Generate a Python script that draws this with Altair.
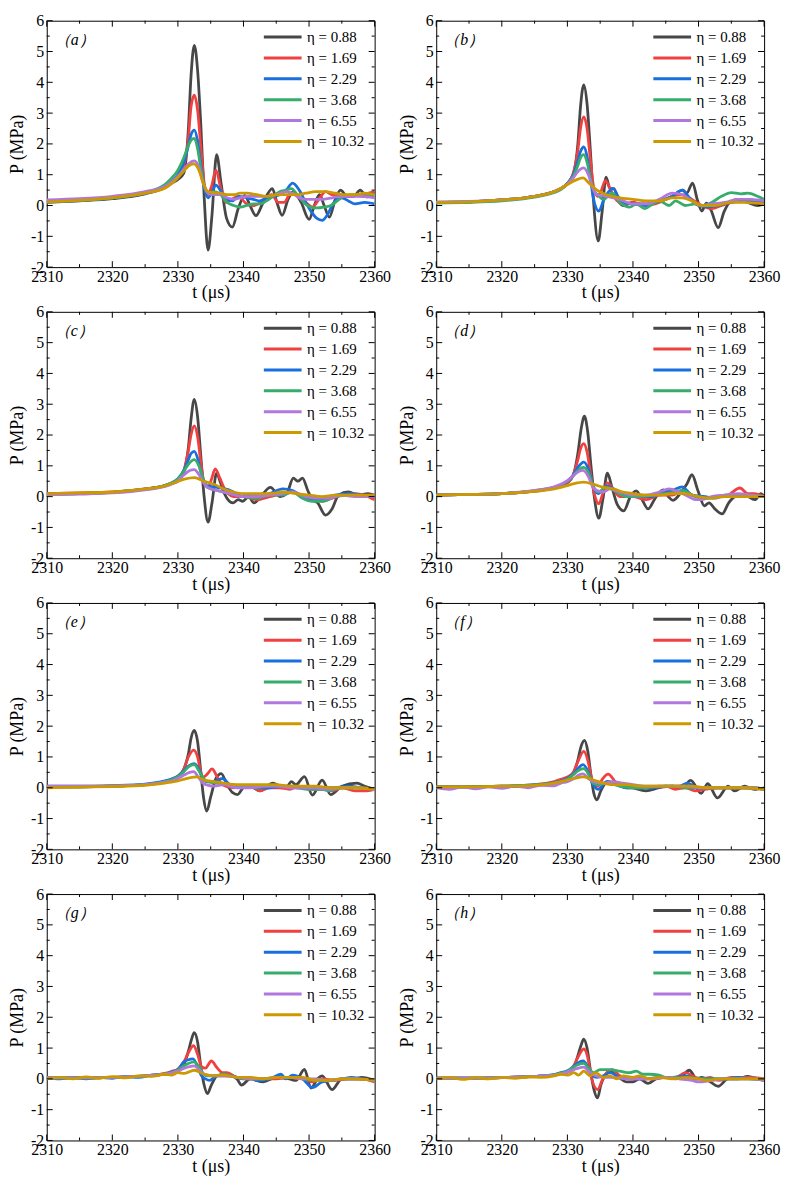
import altair as alt
import pandas as pd

ETA = [0.88, 1.69, 2.29, 3.68, 6.55, 10.32]
COLORS = ["#474747", "#F14040", "#1A6FDF", "#37AD6B", "#B177DE", "#CC9900"]
TAGS = ["a", "b", "c", "d", "e", "f", "g", "h"]
X_MAJOR = [2310, 2320, 2330, 2340, 2350, 2360]
X_MINOR = [2315, 2325, 2335, 2345, 2355]
Y_MAJOR = [-2, -1, 0, 1, 2, 3, 4, 5, 6]
Y_MINOR = [-1.5, -0.5, 0.5, 1.5, 2.5, 3.5, 4.5, 5.5]

# ---- panel (a) ----
a1 = [(2310,0.10),(2315,0.15),(2320,0.22),(2325,0.38),(2327,0.50),(2328,0.60),(2329,0.72),(2330,0.85),(2330.9,1.05),(2331.6,2.5),(2332.0,4.2),(2332.5,5.2),(2333.0,4.4),(2333.5,2.6),(2334.0,0.3),(2334.6,-1.45),(2335.2,-0.3),(2335.9,1.65),(2336.6,0.7),(2337.4,-0.4),(2338.3,-0.7),(2339.2,-0.1),(2340.2,0.33),(2341.0,0.0),(2341.9,-0.33),(2343.0,0.1),(2344.4,0.55),(2345.1,0.1),(2345.9,-0.32),(2346.8,0.2),(2347.6,0.45),(2348.8,0.1),(2350.0,-0.45),(2350.8,0.0),(2351.6,0.35),(2352.3,0.0),(2353.1,-0.38),(2354.0,0.2),(2354.8,0.5),(2355.8,0.3),(2356.8,0.3),(2357.8,0.5),(2358.8,0.28),(2360,0.45)]
a2 = [(2310,0.12),(2315,0.17),(2320,0.25),(2325,0.40),(2328,0.60),(2329,0.75),(2330,0.95),(2330.9,1.3),(2331.6,2.2),(2332.0,3.2),(2332.5,3.58),(2333.0,3.1),(2333.5,1.9),(2334.0,0.75),(2334.5,0.35),(2335.1,0.6),(2335.8,1.15),(2336.5,0.6),(2337.3,0.1),(2338.2,0.2),(2339.2,0.3),(2340.5,0.05),(2341.5,0.0),(2343,0.15),(2344.3,0.35),(2345.3,0.1),(2346.2,0.1),(2347.2,0.4),(2348.5,0.25),(2349.5,0.1),(2350.5,-0.05),(2351.5,0.2),(2352.5,0.45),(2353.5,0.35),(2355,0.3),(2356.5,0.3),(2358,0.35),(2360,0.45)]
a3 = [(2310,0.12),(2315,0.16),(2320,0.24),(2325,0.40),(2328,0.62),(2329,0.78),(2330,1.0),(2330.9,1.4),(2331.6,1.95),(2332.0,2.3),(2332.5,2.45),(2333.0,2.1),(2333.5,1.3),(2334.0,0.6),(2334.6,0.25),(2335.2,0.45),(2335.8,0.66),(2336.6,0.45),(2337.5,0.2),(2338.3,0.15),(2339.3,0.3),(2340.5,0.25),(2341.5,0.2),(2342.5,0.15),(2343.5,0.25),(2344.5,0.3),(2345.5,0.35),(2346.5,0.5),(2347.5,0.73),(2348.5,0.5),(2349.5,0.1),(2350.5,-0.25),(2351.2,-0.42),(2352.0,-0.48),(2352.8,-0.3),(2353.8,0.1),(2355,0.25),(2356,0.15),(2357,0.05),(2358.5,0.1),(2360,0.05)]
a4 = [(2310,0.13),(2315,0.17),(2320,0.25),(2325,0.42),(2328,0.68),(2329,0.88),(2330,1.15),(2330.9,1.55),(2331.6,1.95),(2332.0,2.12),(2332.5,2.18),(2333.0,1.85),(2333.5,1.2),(2334.0,0.65),(2334.6,0.4),(2335.5,0.45),(2336.5,0.35),(2337.5,0.1),(2338.5,0.0),(2339.5,-0.05),(2340.5,0.0),(2341.5,0.05),(2342.5,0.05),(2343.5,0.15),(2344.5,0.3),(2345.5,0.45),(2346.5,0.5),(2347.3,0.55),(2348.2,0.35),(2349.2,0.1),(2350.2,-0.05),(2351.2,-0.08),(2352.3,-0.05),(2353.3,0.0),(2354.3,0.15),(2355.3,0.3),(2356.5,0.35),(2358,0.3),(2360,0.3)]
a5 = [(2310,0.18),(2315,0.22),(2320,0.30),(2325,0.45),(2328,0.62),(2329,0.76),(2330,0.95),(2330.9,1.18),(2331.6,1.35),(2332.5,1.45),(2333.2,1.25),(2333.9,0.7),(2334.6,0.4),(2335.5,0.35),(2336.5,0.35),(2337.5,0.25),(2338.5,0.2),(2339.5,0.25),(2340.5,0.3),(2342,0.3),(2343.5,0.3),(2345,0.35),(2346.5,0.45),(2347.5,0.4),(2348.5,0.25),(2349.5,0.2),(2350.5,0.2),(2352,0.2),(2353.5,0.25),(2355,0.3),(2356.5,0.3),(2358,0.3),(2360,0.25)]
a6 = [(2310,0.12),(2315,0.17),(2320,0.25),(2325,0.40),(2328,0.56),(2329,0.70),(2330,0.90),(2330.9,1.12),(2331.6,1.28),(2332.4,1.35),(2333.2,1.15),(2333.9,0.7),(2334.6,0.45),(2335.5,0.42),(2336.5,0.4),(2337.5,0.35),(2338.5,0.35),(2339.5,0.4),(2340.5,0.4),(2342,0.35),(2343.5,0.3),(2345,0.35),(2346.5,0.35),(2348,0.35),(2349.5,0.4),(2351,0.45),(2352.5,0.45),(2354,0.4),(2355.5,0.35),(2357,0.35),(2358.5,0.4),(2360,0.35)]

# ---- panel (b) ----
b1 = [(2310,0.10),(2315,0.12),(2320,0.18),(2325,0.30),(2328,0.45),(2329,0.55),(2330,0.70),(2330.9,1.0),(2331.6,2.0),(2332.0,3.2),(2332.5,3.92),(2333.0,3.3),(2333.5,1.8),(2334.0,0.1),(2334.7,-1.15),(2335.3,-0.2),(2335.9,0.92),(2336.5,0.55),(2337.1,0.55),(2337.8,0.15),(2338.5,0.0),(2340,0.1),(2341,0.05),(2342,0.05),(2343,0.1),(2344,0.15),(2345,0.2),(2346,0.3),(2347.6,0.5),(2348.2,0.4),(2349.1,0.73),(2349.8,0.2),(2350.5,-0.18),(2351.2,0.08),(2351.9,-0.15),(2353.0,-0.72),(2353.9,-0.2),(2354.8,0.12),(2356,0.2),(2357.5,0.1),(2359,0.0),(2360,0.05)]
b2 = [(2310,0.10),(2315,0.12),(2320,0.18),(2325,0.30),(2328,0.45),(2329,0.55),(2330,0.72),(2330.9,1.05),(2331.6,1.8),(2332.0,2.5),(2332.5,2.88),(2333.0,2.5),(2333.5,1.5),(2334.0,0.6),(2334.6,0.3),(2335.1,0.45),(2335.8,0.81),(2336.5,0.55),(2337.2,0.25),(2338.5,0.05),(2340,0.1),(2342,0.0),(2344,0.1),(2346,0.3),(2347.5,0.35),(2349,0.2),(2350.5,0.0),(2352,-0.1),(2353.5,0.0),(2355,0.1),(2357,0.15),(2360,0.1)]
b3 = [(2310,0.10),(2315,0.12),(2320,0.18),(2325,0.30),(2328,0.45),(2329,0.55),(2330,0.72),(2330.9,1.0),(2331.6,1.45),(2332.0,1.75),(2332.5,1.9),(2333.0,1.6),(2333.5,0.9),(2334.0,0.2),(2334.8,-0.18),(2335.5,0.15),(2336.3,0.45),(2337.0,0.55),(2337.7,0.3),(2338.5,0.1),(2340,0.05),(2342,0.0),(2344,0.15),(2346,0.3),(2347.5,0.5),(2348.8,0.2),(2350,0.0),(2351.5,-0.05),(2353,0.0),(2355,0.1),(2357,0.15),(2360,0.1)]
b4 = [(2310,0.08),(2315,0.10),(2320,0.15),(2325,0.27),(2328,0.42),(2329,0.52),(2330,0.70),(2330.9,0.95),(2331.6,1.3),(2332.0,1.55),(2332.5,1.65),(2333.0,1.4),(2333.5,0.9),(2334.0,0.5),(2334.6,0.35),(2335.5,0.2),(2336.8,0.4),(2338,0.1),(2339.5,-0.05),(2340.5,0.05),(2341.8,-0.1),(2343,0.05),(2344,0.15),(2345.5,0.0),(2346.5,0.15),(2348,0.0),(2349.5,0.05),(2350.5,0.0),(2352,0.1),(2353.5,0.3),(2355,0.42),(2356.5,0.38),(2357.5,0.4),(2359,0.3),(2360,0.2)]
b5 = [(2310,0.12),(2315,0.13),(2320,0.18),(2325,0.30),(2328,0.45),(2329,0.55),(2330,0.70),(2330.9,0.9),(2331.6,1.1),(2332.5,1.22),(2333.2,1.0),(2333.9,0.55),(2334.5,0.35),(2336,0.3),(2338,0.2),(2340,0.05),(2342,0.05),(2344,0.2),(2346,0.4),(2347.5,0.35),(2349,0.15),(2350.5,0.0),(2352,0.05),(2354,0.1),(2356,0.2),(2358,0.2),(2360,0.15)]
b6 = [(2310,0.10),(2315,0.12),(2320,0.18),(2325,0.30),(2328,0.45),(2329,0.55),(2330,0.68),(2331,0.80),(2332.4,0.9),(2333.2,0.75),(2334.5,0.5),(2336,0.35),(2338,0.25),(2340,0.2),(2342,0.15),(2344,0.15),(2346,0.25),(2347.5,0.25),(2349,0.15),(2350.5,0.0),(2352.5,0.0),(2355,0.1),(2357,0.1),(2360,0.05)]

# ---- panel (c) ----
c1 = [(2310,0.08),(2315,0.10),(2320,0.14),(2325,0.24),(2328,0.35),(2329,0.42),(2330,0.50),(2330.9,0.8),(2331.6,1.6),(2332.0,2.5),(2332.5,3.16),(2333.0,2.6),(2333.5,1.3),(2334.0,0.0),(2334.6,-0.83),(2335.2,-0.2),(2335.9,0.76),(2336.5,0.45),(2337.1,0.1),(2338.4,-0.2),(2339.2,-0.1),(2339.9,-0.15),(2340.8,0.0),(2341.6,-0.2),(2342.8,0.05),(2344.1,0.3),(2345.6,0.0),(2346.6,0.1),(2347.6,0.6),(2348.3,0.5),(2349,0.6),(2349.8,0.2),(2350.5,-0.1),(2351.3,-0.2),(2352.5,-0.6),(2353.5,-0.4),(2354.5,0.05),(2356,0.15),(2357.5,0.05),(2359,0.1),(2360,0.05)]
c2 = [(2310,0.10),(2315,0.12),(2320,0.15),(2325,0.25),(2328,0.36),(2329,0.43),(2330,0.55),(2330.9,0.85),(2331.6,1.5),(2332.0,2.0),(2332.5,2.3),(2333.0,1.95),(2333.5,1.1),(2334.0,0.45),(2334.6,0.3),(2335.1,0.55),(2335.7,0.9),(2336.4,0.6),(2337,0.3),(2338.5,0.0),(2340,0.0),(2342,-0.1),(2344,0.0),(2346,0.1),(2347.5,0.15),(2349,0.0),(2350.5,-0.05),(2352,-0.15),(2353.5,-0.05),(2355,0.05),(2357,0.1),(2359,0.0),(2360,-0.1)]
c3 = [(2310,0.08),(2315,0.10),(2320,0.14),(2325,0.24),(2328,0.36),(2329,0.44),(2330,0.58),(2330.9,0.85),(2331.6,1.2),(2332.0,1.4),(2332.5,1.47),(2333.0,1.25),(2333.5,0.8),(2334.0,0.5),(2334.5,0.35),(2336,0.3),(2338,0.2),(2340,0.0),(2342,0.0),(2344,0.1),(2346,0.25),(2347.5,0.2),(2349,0.0),(2351,-0.1),(2352.5,-0.1),(2354,0.05),(2356,0.1),(2358,0.05),(2360,0.0)]
c4 = [(2310,0.08),(2315,0.10),(2320,0.14),(2325,0.24),(2328,0.36),(2329,0.44),(2330,0.58),(2330.9,0.82),(2331.6,1.05),(2332.5,1.2),(2333.2,1.0),(2333.9,0.55),(2334.5,0.3),(2336,0.2),(2338,0.1),(2340,0.0),(2342,-0.05),(2344,0.05),(2346,0.05),(2347.5,0.15),(2349,-0.05),(2350.5,-0.15),(2352,-0.15),(2354,0.0),(2356,0.05),(2358,0.05),(2360,0.0)]
c5 = [(2310,0.06),(2315,0.08),(2320,0.12),(2325,0.22),(2328,0.33),(2329,0.40),(2330,0.52),(2331,0.72),(2331.8,0.85),(2332.5,0.88),(2333.2,0.72),(2333.9,0.45),(2334.5,0.3),(2336,0.2),(2338,0.1),(2340,0.0),(2342,0.0),(2344,0.05),(2346,0.1),(2347.5,0.15),(2349.5,0.0),(2351,-0.05),(2353,-0.05),(2355,0.05),(2357,0.0),(2360,0.0)]
c6 = [(2310,0.10),(2315,0.12),(2320,0.15),(2325,0.25),(2328,0.35),(2329,0.42),(2330,0.50),(2331,0.57),(2332.5,0.62),(2334,0.5),(2335.5,0.4),(2337,0.25),(2338.5,0.15),(2340,0.1),(2342,0.1),(2344,0.1),(2346,0.15),(2348,0.1),(2350,0.05),(2352,0.0),(2354,0.05),(2356,0.05),(2358,0.05),(2360,0.05)]

# ---- panel (d) ----
d1 = [(2310,0.05),(2315,0.07),(2320,0.10),(2325,0.18),(2328,0.28),(2329,0.35),(2330,0.45),(2330.9,0.7),(2331.6,1.4),(2332.1,2.2),(2332.6,2.61),(2333.1,2.1),(2333.6,1.0),(2334.1,0.0),(2334.8,-0.7),(2335.4,-0.1),(2336.1,0.76),(2336.8,0.3),(2337.6,-0.25),(2338.6,-0.46),(2339.6,0.0),(2340.5,0.19),(2341.4,-0.1),(2342.3,-0.4),(2343.4,-0.05),(2344.6,0.22),(2345.4,0.0),(2346.1,-0.12),(2347.5,0.19),(2348.2,0.4),(2349,0.71),(2349.9,0.2),(2350.9,-0.3),(2351.6,-0.2),(2352.5,-0.4),(2353.6,-0.56),(2354.6,-0.2),(2355.6,0.0),(2357,0.05),(2358.6,-0.1),(2359.5,0.1),(2360,0.0)]
d2 = [(2310,0.05),(2315,0.07),(2320,0.10),(2325,0.18),(2328,0.28),(2329,0.35),(2330,0.46),(2330.9,0.7),(2331.6,1.2),(2332.0,1.55),(2332.5,1.72),(2333.0,1.45),(2333.5,0.8),(2334.1,0.1),(2334.8,-0.23),(2335.4,0.1),(2336.1,0.45),(2336.8,0.3),(2338,0.0),(2340,0.0),(2342,-0.1),(2344,0.05),(2346,0.05),(2347.5,0.2),(2349.5,0.0),(2351,-0.05),(2353,0.0),(2354.5,0.05),(2356.3,0.28),(2357.5,0.1),(2358.5,0.1),(2360,0.0)]
d3 = [(2310,0.05),(2315,0.07),(2320,0.10),(2325,0.19),(2328,0.30),(2329,0.38),(2330,0.50),(2330.9,0.7),(2331.6,0.95),(2332.5,1.12),(2333.2,0.9),(2333.9,0.35),(2334.7,0.1),(2336,0.35),(2337.5,0.2),(2339,0.05),(2341,0.0),(2343,0.0),(2344.5,0.15),(2346,0.2),(2347.5,0.32),(2349,0.05),(2351,0.0),(2352.5,-0.05),(2354,0.05),(2356,0.05),(2358,0.05),(2360,0.0)]
d4 = [(2310,0.05),(2315,0.07),(2320,0.10),(2325,0.19),(2328,0.30),(2329,0.38),(2330,0.50),(2330.9,0.68),(2331.6,0.85),(2332.5,0.95),(2333.2,0.78),(2333.9,0.35),(2334.7,0.15),(2336,0.3),(2337.5,0.15),(2339,0.0),(2341,0.0),(2343,0.05),(2345,0.1),(2346.5,0.15),(2347.5,0.2),(2349.5,0.0),(2351,-0.05),(2353,0.0),(2355,0.05),(2357,0.05),(2360,0.0)]
d5 = [(2310,0.05),(2315,0.07),(2320,0.10),(2325,0.20),(2328,0.32),(2329,0.40),(2330,0.52),(2330.9,0.68),(2331.6,0.8),(2332.4,0.85),(2333.2,0.65),(2333.9,0.3),(2334.5,0.2),(2335.5,0.15),(2336.5,0.25),(2338,0.15),(2340,0.05),(2342,0.05),(2344,0.15),(2345.5,0.25),(2347,0.15),(2348.5,0.0),(2349.5,-0.1),(2350.5,-0.1),(2352,0.0),(2354,0.05),(2356,0.1),(2358,0.05),(2360,0.0)]
d6 = [(2310,0.05),(2315,0.07),(2320,0.10),(2325,0.17),(2328,0.25),(2329,0.30),(2330,0.36),(2331,0.42),(2332.5,0.47),(2334,0.4),(2335.5,0.3),(2337,0.25),(2338.5,0.15),(2340,0.1),(2342,0.05),(2344,0.05),(2346,0.1),(2348,0.1),(2350,0.0),(2352,-0.05),(2354,0.0),(2356,0.0),(2358,0.0),(2360,0.0)]

# ---- panel (e) ----
e1 = [(2310,0.03),(2315,0.03),(2320,0.05),(2325,0.10),(2328,0.20),(2329,0.25),(2330,0.35),(2330.9,0.6),(2331.6,1.1),(2332.0,1.6),(2332.5,1.86),(2333.0,1.5),(2333.5,0.5),(2333.9,-0.3),(2334.4,-0.76),(2335.0,-0.3),(2335.8,0.3),(2336.6,0.46),(2337.5,0.1),(2338.3,-0.15),(2339.1,-0.22),(2340,0.0),(2341.1,0.05),(2342.5,-0.1),(2344.5,0.15),(2345.5,0.05),(2346.5,0.0),(2347.3,0.2),(2348,0.1),(2349.3,0.36),(2350.5,-0.24),(2352,0.25),(2353.3,-0.22),(2355,0.05),(2357.3,0.15),(2358.5,0.05),(2360,-0.05)]
e2 = [(2310,0.03),(2315,0.03),(2320,0.05),(2325,0.10),(2328,0.20),(2329,0.27),(2330,0.38),(2330.9,0.6),(2331.6,1.0),(2332.4,1.22),(2333.0,1.0),(2333.5,0.5),(2333.9,0.35),(2334.5,0.45),(2335.2,0.61),(2336,0.35),(2336.8,0.1),(2338.5,0.0),(2340,0.05),(2341.5,0.0),(2342.5,-0.1),(2344,0.0),(2345.5,0.0),(2347,-0.05),(2348.5,0.05),(2350,-0.05),(2352,-0.05),(2353.5,-0.1),(2355,0.0),(2357,-0.1),(2358.5,-0.1),(2360,-0.05)]
e3 = [(2310,0.05),(2315,0.05),(2320,0.07),(2325,0.12),(2328,0.22),(2329,0.28),(2330,0.38),(2330.9,0.55),(2331.6,0.7),(2332.5,0.78),(2333.2,0.6),(2333.8,0.3),(2334.3,0.2),(2335.5,0.2),(2336.8,0.3),(2338,0.1),(2340,0.05),(2342,0.0),(2344,0.0),(2346,0.05),(2348,0.05),(2350,0.0),(2352,0.0),(2354,0.0),(2356,0.05),(2358,0.0),(2360,-0.05)]
e4 = [(2310,0.03),(2315,0.03),(2320,0.05),(2325,0.10),(2328,0.20),(2329,0.26),(2330,0.36),(2330.9,0.52),(2331.6,0.68),(2332.5,0.75),(2333.2,0.55),(2333.9,0.3),(2334.5,0.2),(2336,0.15),(2338,0.1),(2340,0.05),(2342,0.0),(2344,0.05),(2346,0.05),(2348,0.0),(2350,-0.05),(2352,-0.05),(2353,-0.1),(2355,0.0),(2357,0.0),(2360,-0.05)]
e5 = [(2310,0.05),(2315,0.05),(2320,0.06),(2325,0.10),(2328,0.18),(2329,0.22),(2330,0.30),(2331,0.42),(2331.8,0.5),(2332.4,0.52),(2333.1,0.35),(2333.8,0.15),(2334.3,0.1),(2335.5,0.05),(2337,0.1),(2339,0.0),(2341,0.0),(2343,0.05),(2345,0.05),(2347,0.0),(2349,0.0),(2351,0.0),(2353,-0.05),(2355,0.0),(2357,0.0),(2360,-0.05)]
e6 = [(2310,0.0),(2315,0.02),(2320,0.04),(2325,0.08),(2328,0.15),(2329,0.18),(2330,0.22),(2331,0.28),(2332.8,0.35),(2334,0.25),(2335.5,0.2),(2337,0.15),(2339,0.1),(2341,0.1),(2343,0.1),(2345,0.1),(2347,0.05),(2349,0.05),(2351,0.05),(2353,0.0),(2355,0.0),(2357,0.0),(2360,-0.05)]

# ---- panel (f) ----
f1 = [(2310,0.03),(2315,0.03),(2320,0.04),(2325,0.08),(2328,0.15),(2329,0.20),(2330,0.28),(2330.9,0.45),(2331.6,0.9),(2332.1,1.35),(2332.6,1.54),(2333.1,1.2),(2333.6,0.4),(2334.0,-0.15),(2334.5,-0.39),(2335.1,-0.1),(2336.1,0.2),(2337.5,0.15),(2340,0.0),(2342,-0.1),(2344,0.0),(2346,0.05),(2347.5,0.0),(2348.8,0.24),(2350.4,-0.18),(2351.4,0.13),(2352.9,-0.33),(2354.5,0.05),(2355.5,-0.1),(2357,0.05),(2358.5,-0.05),(2360,0.0)]
f2 = [(2310,0.03),(2315,0.03),(2320,0.05),(2325,0.10),(2328,0.20),(2329,0.27),(2330,0.35),(2330.9,0.5),(2331.6,0.85),(2332.5,1.18),(2333.1,0.9),(2333.6,0.4),(2334.0,0.1),(2334.6,0.05),(2335.4,0.3),(2336.2,0.44),(2337.5,0.15),(2339,0.0),(2341,0.0),(2343,0.0),(2345,0.05),(2346.5,-0.05),(2348,0.0),(2349.5,-0.1),(2351,-0.05),(2353,0.0),(2355,0.0),(2357,0.0),(2360,-0.05)]
f3 = [(2310,0.03),(2315,0.03),(2320,0.05),(2325,0.09),(2328,0.17),(2329,0.22),(2330,0.30),(2330.9,0.45),(2331.6,0.62),(2332.4,0.75),(2333.1,0.55),(2333.8,0.15),(2334.7,-0.05),(2336,0.2),(2337.5,0.1),(2339,0.0),(2341,0.0),(2343,0.0),(2345,0.05),(2347,0.05),(2348.3,0.15),(2350,0.0),(2352,0.0),(2354,0.0),(2356,0.0),(2358,0.0),(2360,-0.05)]
f4 = [(2310,0.03),(2315,0.03),(2320,0.05),(2325,0.09),(2328,0.16),(2329,0.20),(2330,0.28),(2330.9,0.42),(2331.6,0.55),(2332.5,0.62),(2333.2,0.45),(2333.9,0.15),(2334.6,0.1),(2336,0.15),(2338,0.05),(2340,0.0),(2342,0.0),(2344,0.05),(2346,0.05),(2348,0.0),(2350,0.0),(2352,0.0),(2354,0.0),(2356,0.0),(2358,0.0),(2360,-0.05)]
f5 = [(2310,0.0),(2312,-0.05),(2314,0.03),(2316,-0.04),(2318,0.03),(2320,-0.02),(2322,0.05),(2324,0.0),(2326,0.08),(2328,0.06),(2329,0.15),(2330,0.20),(2331,0.30),(2331.8,0.42),(2332.4,0.45),(2333.2,0.3),(2334,0.2),(2335.5,0.15),(2337,0.2),(2338.5,0.15),(2340,0.1),(2342,0.05),(2344,0.05),(2346,0.05),(2348,0.05),(2350,0.0),(2352,0.0),(2354,0.0),(2356,0.0),(2358,0.0),(2360,-0.05)]
f6 = [(2310,0.03),(2315,0.03),(2320,0.05),(2325,0.08),(2328,0.15),(2329,0.20),(2330,0.25),(2331,0.30),(2332.5,0.35),(2334,0.25),(2335.5,0.15),(2337,0.1),(2339,0.1),(2341,0.05),(2343,0.05),(2345,0.05),(2347,0.05),(2349,0.05),(2351,0.0),(2353,0.0),(2355,0.0),(2357,0.0),(2360,-0.05)]

# ---- panel (g) ----
g1 = [(2310,0.03),(2315,0.03),(2320,0.05),(2325,0.10),(2328,0.15),(2329,0.20),(2330,0.25),(2330.9,0.45),(2331.6,0.9),(2332.1,1.3),(2332.5,1.5),(2333.0,1.2),(2333.5,0.4),(2334.0,-0.2),(2334.5,-0.48),(2335.1,-0.2),(2336,0.1),(2337.5,0.15),(2339,0.0),(2339.7,-0.2),(2341,0.0),(2343,-0.1),(2345,0.05),(2347,0.0),(2348,-0.05),(2349.3,0.31),(2350.3,-0.3),(2351.3,0.0),(2352,0.1),(2353.5,-0.35),(2355,0.0),(2357,0.0),(2358,0.05),(2360,-0.05)]
g2 = [(2310,0.03),(2315,0.03),(2320,0.05),(2325,0.10),(2328,0.18),(2329,0.24),(2330,0.32),(2330.9,0.55),(2331.6,0.85),(2332.4,1.08),(2333.0,0.8),(2333.6,0.4),(2334.2,0.35),(2335.1,0.58),(2336,0.35),(2336.8,0.2),(2337.5,0.2),(2339,0.05),(2341,0.0),(2343,0.0),(2345,0.0),(2347,0.05),(2349,0.0),(2350.5,-0.1),(2352,0.0),(2354,-0.05),(2356,0.0),(2358,0.0),(2360,-0.1)]
g3 = [(2310,0.05),(2312,0.0),(2314,0.05),(2316,0.0),(2318,0.05),(2320,0.02),(2322,0.07),(2324,0.05),(2326,0.12),(2328,0.15),(2329,0.22),(2330,0.30),(2330.9,0.55),(2331.6,0.62),(2332.3,0.65),(2333.0,0.4),(2333.6,0.1),(2334.2,0.0),(2334.8,-0.05),(2336,0.1),(2338,0.1),(2340,0.0),(2341,0.05),(2342,-0.05),(2344,0.0),(2345.7,0.15),(2346.5,0.0),(2347.5,0.12),(2349,0.0),(2350.5,-0.28),(2352,-0.1),(2353.5,-0.05),(2355,0.0),(2356.5,0.05),(2358,0.0),(2360,-0.05)]
g4 = [(2310,0.03),(2315,0.03),(2320,0.05),(2325,0.10),(2328,0.15),(2329,0.20),(2330,0.28),(2330.9,0.42),(2331.6,0.5),(2332.5,0.55),(2333.2,0.4),(2334.3,0.1),(2335.5,0.1),(2337,0.15),(2339,0.05),(2341,0.0),(2343,0.0),(2345,0.05),(2347,0.05),(2349,0.0),(2351,-0.05),(2353,-0.05),(2355,0.0),(2357,0.0),(2360,-0.05)]
g5 = [(2310,0.03),(2315,0.03),(2320,0.05),(2325,0.10),(2328,0.15),(2329,0.19),(2330,0.25),(2331,0.35),(2331.8,0.4),(2332.5,0.42),(2333.2,0.3),(2334,0.15),(2335.5,0.1),(2337,0.1),(2339,0.05),(2341,0.0),(2343,0.0),(2345,0.05),(2347,0.05),(2349,0.0),(2351,0.0),(2353,-0.05),(2355,0.0),(2357,0.0),(2360,-0.05)]
g6 = [(2310,0.0),(2312,0.05),(2314,0.0),(2316,0.06),(2318,0.02),(2320,0.07),(2322,0.03),(2324,0.10),(2326,0.08),(2328,0.15),(2329,0.12),(2330,0.20),(2331,0.18),(2332.5,0.28),(2334,0.15),(2335.5,0.1),(2337,0.12),(2339,0.05),(2341,0.05),(2343,0.0),(2345,0.05),(2347,0.05),(2349,0.05),(2351,-0.05),(2353,-0.05),(2355,0.0),(2357,0.0),(2360,-0.05)]

# ---- panel (h) ----
h1 = [(2310,0.02),(2315,0.02),(2320,0.04),(2325,0.08),(2328,0.12),(2329,0.18),(2330,0.22),(2330.9,0.35),(2331.6,0.75),(2332.1,1.1),(2332.5,1.29),(2333.0,1.0),(2333.5,0.3),(2334.0,-0.3),(2334.6,-0.62),(2335.1,-0.2),(2335.7,0.1),(2336.5,0.25),(2337.5,0.1),(2339.1,-0.1),(2340,-0.1),(2341,0.0),(2342.3,-0.15),(2343.5,0.0),(2345,0.05),(2346.5,0.0),(2347.5,0.1),(2348.6,0.28),(2349.7,0.0),(2350.5,0.05),(2351.5,-0.05),(2353,-0.24),(2354.5,0.0),(2356,0.0),(2357.5,0.08),(2359,0.0),(2360,-0.05)]
h2 = [(2310,0.02),(2315,0.02),(2320,0.04),(2325,0.08),(2328,0.13),(2329,0.18),(2330,0.24),(2330.9,0.4),(2331.6,0.7),(2332.5,0.97),(2333.1,0.7),(2333.6,0.1),(2334.6,-0.35),(2335.3,-0.05),(2336,0.2),(2336.8,0.3),(2338,0.1),(2339.5,0.0),(2341,0.0),(2343,0.0),(2345,0.05),(2346.5,0.05),(2348,0.2),(2349.5,0.05),(2350.5,0.0),(2351.8,0.05),(2353,-0.05),(2355,0.05),(2356.5,0.05),(2358,0.05),(2360,0.0)]
h3 = [(2310,0.02),(2315,0.02),(2320,0.04),(2325,0.08),(2328,0.14),(2329,0.20),(2330,0.26),(2330.9,0.4),(2331.6,0.52),(2332.4,0.58),(2333.1,0.4),(2333.8,0.1),(2334.5,0.05),(2335.5,0.1),(2336.5,0.2),(2338,0.05),(2340,0.0),(2342,0.0),(2344,0.05),(2346,0.05),(2348,0.1),(2350,0.0),(2352,0.0),(2354,0.0),(2356,0.05),(2358,0.0),(2360,0.0)]
h4 = [(2310,0.02),(2315,0.02),(2320,0.04),(2325,0.08),(2328,0.14),(2329,0.19),(2330,0.25),(2330.9,0.38),(2331.6,0.46),(2332.5,0.5),(2333.2,0.35),(2334,0.2),(2335,0.3),(2336.5,0.3),(2338,0.25),(2339.5,0.2),(2340.5,0.25),(2341.5,0.15),(2342.5,0.15),(2344,0.12),(2345,0.05),(2346.5,0.05),(2348,0.0),(2350,0.0),(2352,0.0),(2354,0.0),(2356,0.0),(2358,0.0),(2360,-0.05)]
h5 = [(2310,0.02),(2315,0.02),(2320,0.04),(2325,0.08),(2328,0.12),(2329,0.16),(2330,0.22),(2331,0.30),(2331.8,0.36),(2332.5,0.38),(2333.2,0.25),(2334.3,0.1),(2335.5,0.05),(2337,0.05),(2339,0.0),(2341,0.0),(2343,0.0),(2345,0.05),(2347,0.0),(2349,-0.05),(2350,-0.1),(2352,-0.05),(2354,0.0),(2356,0.0),(2358,0.0),(2360,-0.05)]
h6 = [(2310,0.0),(2312,0.05),(2314,-0.02),(2316,0.04),(2318,0.0),(2320,0.05),(2322,0.02),(2324,0.06),(2326,0.05),(2328,0.10),(2329,0.15),(2330,0.12),(2331,0.20),(2331.7,0.12),(2332.5,0.25),(2333.5,0.1),(2334.3,0.2),(2335.5,0.05),(2336.5,0.1),(2337.5,0.0),(2338.5,0.1),(2340,0.05),(2341,0.1),(2342.5,0.0),(2344,0.05),(2346,0.0),(2348,0.05),(2350,0.0),(2351.5,-0.05),(2353,0.0),(2355,0.0),(2357,0.0),(2360,0.0)]

PANELS = [
    [a1, a2, a3, a4, a5, a6],
    [b1, b2, b3, b4, b5, b6],
    [c1, c2, c3, c4, c5, c6],
    [d1, d2, d3, d4, d5, d6],
    [e1, e2, e3, e4, e5, e6],
    [f1, f2, f3, f4, f5, f6],
    [g1, g2, g3, g4, g5, g6],
    [h1, h2, h3, h4, h5, h6],
]

LABELS = ["η = " + f"{e:.2f}" for e in ETA]

W, H = 330, 248
FONT = "Liberation Serif"

xs = alt.Scale(domain=[2310, 2360], nice=False, zero=False)
ys = alt.Scale(domain=[-2, 6], nice=False, zero=False)
cs = alt.Scale(domain=LABELS, range=COLORS)

xaxis = alt.Axis(values=X_MAJOR, title="t (μs)", labelExpr="'' + datum.value",
                 ticks=False, domain=False, grid=False, labelFlush=False, labelOverlap=False,
                 labelPadding=1, titlePadding=0)
yaxis = alt.Axis(values=Y_MAJOR, title="P (MPa)", labelExpr="'' + datum.value",
                 ticks=False, domain=False, grid=False, labelFlush=False, labelOverlap=False,
                 labelPadding=3, titlePadding=4)
# a wide horizontal stroke drawn as a custom path (line is 5 units wide)
legend = alt.Legend(orient="none", legendX=W - 102, legendY=7, title=None,
                    symbolType="M-2.5,0L2.5,0", symbolSize=231, symbolStrokeWidth=3,
                    labelFont=FONT, labelFontSize=15, labelColor="black",
                    rowPadding=3, padding=0, labelOffset=15)


def tick_layer(vals, side, length):
    df = pd.DataFrame({"t": vals, "p": vals})
    base = alt.Chart(df).mark_rule(color="black", strokeWidth=1)
    if side == "bottom":
        return base.encode(x=alt.X("t:Q", scale=xs, axis=xaxis), y=alt.value(H), y2=alt.value(H - length))
    if side == "top":
        return base.encode(x=alt.X("t:Q", scale=xs, axis=xaxis), y=alt.value(0), y2=alt.value(length))
    if side == "left":
        return base.encode(y=alt.Y("p:Q", scale=ys, axis=yaxis), x=alt.value(0), x2=alt.value(length))
    return base.encode(y=alt.Y("p:Q", scale=ys, axis=yaxis), x=alt.value(W), x2=alt.value(W - length))


def panel(i):
    layers = []
    for k, series in enumerate(PANELS[i]):
        df = pd.DataFrame(series, columns=["t", "p"])
        df["eta"] = LABELS[k]
        layers.append(
            alt.Chart(df).mark_line(strokeWidth=2.8, interpolate="monotone", clip=True).encode(
                x=alt.X("t:Q", scale=xs, axis=xaxis),
                y=alt.Y("p:Q", scale=ys, axis=yaxis),
                color=alt.Color("eta:N", scale=cs, legend=legend),
            )
        )
    for side in ["bottom", "top"]:
        layers.append(tick_layer(X_MAJOR, side, 6))
        layers.append(tick_layer(X_MINOR, side, 3))
    for side in ["left", "right"]:
        layers.append(tick_layer(Y_MAJOR, side, 6))
        layers.append(tick_layer(Y_MINOR, side, 3))
    tag_df = pd.DataFrame({"s": ["（" + TAGS[i] + "）"]})
    layers.append(
        alt.Chart(tag_df).mark_text(align="left", baseline="middle", font=FONT, fontSize=16,
                                    fontStyle="italic", color="black").encode(
            text="s:N", x=alt.value(8), y=alt.value(19))
    )
    return alt.layer(*layers).properties(width=W, height=H)


chart = alt.concat(*[panel(i) for i in range(8)], columns=2,
                   spacing={"row": 0, "column": 6}).resolve_scale(
    color="independent").resolve_legend(color="independent").properties(
    padding={"left": 0, "top": 0, "right": 0, "bottom": 0}, background="white").configure_view(
    stroke="black", strokeWidth=1).configure_axis(
    labelFont=FONT, labelFontSize=16, labelColor="black",
    titleFont=FONT, titleFontSize=18, titleFontWeight="normal", titleColor="black")

chart.save("out.html", embed_options={"renderer": "svg", "actions": False})
